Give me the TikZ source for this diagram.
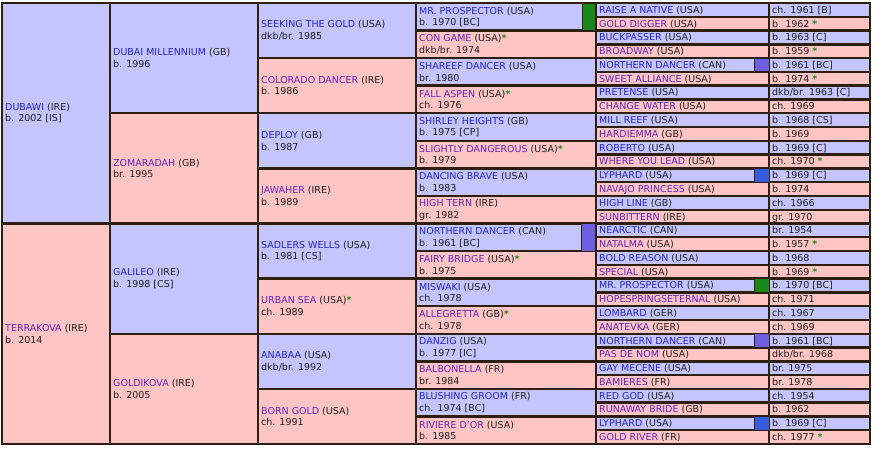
\documentclass[tikz,border=0pt]{standalone}
\usepackage{fontspec}
\setmainfont{DejaVu Sans}
\definecolor{bgm}{RGB}{196,196,255}
\definecolor{bgf}{RGB}{255,196,196}
\definecolor{bord}{RGB}{45,30,15}
\definecolor{lm}{RGB}{36,36,200}
\definecolor{lf}{RGB}{100,36,185}
\definecolor{tx}{RGB}{30,30,30}
\definecolor{stg}{RGB}{30,140,30}
\definecolor{sqg}{RGB}{25,135,25}
\definecolor{sqnd}{RGB}{110,95,225}
\definecolor{sqly}{RGB}{55,90,225}
\newcommand\Mn[1]{\textcolor{lm}{#1}}
\newcommand\Fn[1]{\textcolor{lf}{#1}}
\newcommand\gst{\textcolor{stg}{\textbf{*}}}
\tikzset{
  cellbox/.style={draw=bord,line width=2.4pt},
  sqbox/.style={draw=bord,line width=1pt},
  txt/.style={anchor=west,inner xsep=3pt,inner ysep=0pt,align=left,text=tx,font=\fontsize{9.5}{11.5}\selectfont},
  txtone/.style={anchor=west,inner xsep=3pt,inner ysep=0pt,text=tx,text height=8.5pt,text depth=1.7pt,font=\fontsize{9.5}{11.5}\selectfont}
}
% #1 name, #2 x1, #3 x2, #4 row, #5 row height, #6 m/f, #7 text
\newcommand\Cell[7]{%
  \pgfmathsetmacro\ya{3+#4*#5}\pgfmathsetmacro\yb{3+(#4+1)*#5}\pgfmathsetmacro\ym{(\ya+\yb)/2}%
  \path[cellbox,fill=bg#6] (#2,\ya) rectangle (#3,\yb);
  \node[txt] (#1) at (#2,\ym) {#7};
}
% #1 row, #2 m/f, #3 name text, #4 date text
\newcommand\Rw[4]{%
  \pgfmathsetmacro\ya{3+#1*13.78125}\pgfmathsetmacro\yb{3+(#1+1)*13.78125}\pgfmathsetmacro\ym{(\ya+\yb)/2}%
  \path[cellbox,fill=bg#2] (596,\ya) rectangle (769,\yb);
  \path[cellbox,fill=bg#2] (769,\ya) rectangle (870,\yb);
  \node[txtone] (n#1) at (596,\ym) {#3};
  \node[txtone] (d#1) at (769,\ym) {#4};
}
% #1 row, #2 color, #3 x1, #4 x2, #5 row height
\newcommand\Sq[5]{%
  \pgfmathsetmacro\ya{3+#1*#5}\pgfmathsetmacro\yb{3+(#1+1)*#5}%
  \path[sqbox,fill=#2] (#3,\ya) rectangle (#4,\yb);
}
\begin{document}
\begin{tikzpicture}[x=1pt,y=-1pt]
\useasboundingbox (0,0) rectangle (875,448);
\fill[white] (0,0) rectangle (875,448);
% generation 1
\Cell{ga}{2}{110}{0}{220.5}{m}{\Mn{DUBAWI} (IRE)\\b. 2002 [IS]}
\Cell{gb}{2}{110}{1}{220.5}{f}{\Fn{TERRAKOVA} (IRE)\\b. 2014}
% generation 2
\Cell{ha}{110}{258}{0}{110.25}{m}{\Mn{DUBAI MILLENNIUM} (GB)\\b. 1996}
\Cell{hb}{110}{258}{1}{110.25}{f}{\Fn{ZOMARADAH} (GB)\\br. 1995}
\Cell{hc}{110}{258}{2}{110.25}{m}{\Mn{GALILEO} (IRE)\\b. 1998 [CS]}
\Cell{hd}{110}{258}{3}{110.25}{f}{\Fn{GOLDIKOVA} (IRE)\\b. 2005}
% generation 3
\Cell{ja}{258}{416}{0}{55.125}{m}{\Mn{SEEKING THE GOLD} (USA)\\dkb/br. 1985}
\Cell{jb}{258}{416}{1}{55.125}{f}{\Fn{COLORADO DANCER} (IRE)\\b. 1986}
\Cell{jc}{258}{416}{2}{55.125}{m}{\Mn{DEPLOY} (GB)\\b. 1987}
\Cell{jd}{258}{416}{3}{55.125}{f}{\Fn{JAWAHER} (IRE)\\b. 1989}
\Cell{je}{258}{416}{4}{55.125}{m}{\Mn{SADLERS WELLS} (USA)\\b. 1981 [CS]}
\Cell{jf}{258}{416}{5}{55.125}{f}{\Fn{URBAN SEA} (USA)\gst\\ch. 1989}
\Cell{jg}{258}{416}{6}{55.125}{m}{\Mn{ANABAA} (USA)\\dkb/br. 1992}
\Cell{jh}{258}{416}{7}{55.125}{f}{\Fn{BORN GOLD} (USA)\\ch. 1991}
% generation 4
\Cell{ka}{416}{596}{0}{27.5625}{m}{\Mn{MR. PROSPECTOR} (USA)\\b. 1970 [BC]}
\Cell{kb}{416}{596}{1}{27.5625}{f}{\Fn{CON GAME} (USA)\gst\\dkb/br. 1974}
\Cell{kc}{416}{596}{2}{27.5625}{m}{\Mn{SHAREEF DANCER} (USA)\\br. 1980}
\Cell{kd}{416}{596}{3}{27.5625}{f}{\Fn{FALL ASPEN} (USA)\gst\\ch. 1976}
\Cell{ke}{416}{596}{4}{27.5625}{m}{\Mn{SHIRLEY HEIGHTS} (GB)\\b. 1975 [CP]}
\Cell{kf}{416}{596}{5}{27.5625}{f}{\Fn{SLIGHTLY DANGEROUS} (USA)\gst\\b. 1979}
\Cell{kg}{416}{596}{6}{27.5625}{m}{\Mn{DANCING BRAVE} (USA)\\b. 1983}
\Cell{kh}{416}{596}{7}{27.5625}{f}{\Fn{HIGH TERN} (IRE)\\gr. 1982}
\Cell{ki}{416}{596}{8}{27.5625}{m}{\Mn{NORTHERN DANCER} (CAN)\\b. 1961 [BC]}
\Cell{kj}{416}{596}{9}{27.5625}{f}{\Fn{FAIRY BRIDGE} (USA)\gst\\b. 1975}
\Cell{kk}{416}{596}{10}{27.5625}{m}{\Mn{MISWAKI} (USA)\\ch. 1978}
\Cell{kl}{416}{596}{11}{27.5625}{f}{\Fn{ALLEGRETTA} (GB)\gst\\ch. 1978}
\Cell{km}{416}{596}{12}{27.5625}{m}{\Mn{DANZIG} (USA)\\b. 1977 [IC]}
\Cell{kn}{416}{596}{13}{27.5625}{f}{\Fn{BALBONELLA} (FR)\\br. 1984}
\Cell{ko}{416}{596}{14}{27.5625}{m}{\Mn{BLUSHING GROOM} (FR)\\ch. 1974 [BC]}
\Cell{kp}{416}{596}{15}{27.5625}{f}{\Fn{RIVIERE D'OR} (USA)\\b. 1985}
\Sq{0}{sqg}{582}{596}{27.5625}
\Sq{8}{sqnd}{581}{596}{27.5625}
% generation 5
\Rw{0}{m}{\Mn{RAISE A NATIVE} (USA)}{ch. 1961 [B]}
\Rw{1}{f}{\Fn{GOLD DIGGER} (USA)}{b. 1962 \gst}
\Rw{2}{m}{\Mn{BUCKPASSER} (USA)}{b. 1963 [C]}
\Rw{3}{f}{\Fn{BROADWAY} (USA)}{b. 1959 \gst}
\Rw{4}{m}{\Mn{NORTHERN DANCER} (CAN)}{b. 1961 [BC]}
\Rw{5}{f}{\Fn{SWEET ALLIANCE} (USA)}{b. 1974 \gst}
\Rw{6}{m}{\Mn{PRETENSE} (USA)}{dkb/br. 1963 [C]}
\Rw{7}{f}{\Fn{CHANGE WATER} (USA)}{ch. 1969}
\Rw{8}{m}{\Mn{MILL REEF} (USA)}{b. 1968 [CS]}
\Rw{9}{f}{\Fn{HARDIEMMA} (GB)}{b. 1969}
\Rw{10}{m}{\Mn{ROBERTO} (USA)}{b. 1969 [C]}
\Rw{11}{f}{\Fn{WHERE YOU LEAD} (USA)}{ch. 1970 \gst}
\Rw{12}{m}{\Mn{LYPHARD} (USA)}{b. 1969 [C]}
\Rw{13}{f}{\Fn{NAVAJO PRINCESS} (USA)}{b. 1974}
\Rw{14}{m}{\Mn{HIGH LINE} (GB)}{ch. 1966}
\Rw{15}{f}{\Fn{SUNBITTERN} (IRE)}{gr. 1970}
\Rw{16}{m}{\Mn{NEARCTIC} (CAN)}{br. 1954}
\Rw{17}{f}{\Fn{NATALMA} (USA)}{b. 1957 \gst}
\Rw{18}{m}{\Mn{BOLD REASON} (USA)}{b. 1968}
\Rw{19}{f}{\Fn{SPECIAL} (USA)}{b. 1969 \gst}
\Rw{20}{m}{\Mn{MR. PROSPECTOR} (USA)}{b. 1970 [BC]}
\Rw{21}{f}{\Fn{HOPESPRINGSETERNAL} (USA)}{ch. 1971}
\Rw{22}{m}{\Mn{LOMBARD} (GER)}{ch. 1967}
\Rw{23}{f}{\Fn{ANATEVKA} (GER)}{ch. 1969}
\Rw{24}{m}{\Mn{NORTHERN DANCER} (CAN)}{b. 1961 [BC]}
\Rw{25}{f}{\Fn{PAS DE NOM} (USA)}{dkb/br. 1968}
\Rw{26}{m}{\Mn{GAY MECENE} (USA)}{br. 1975}
\Rw{27}{f}{\Fn{BAMIERES} (FR)}{br. 1978}
\Rw{28}{m}{\Mn{RED GOD} (USA)}{ch. 1954}
\Rw{29}{f}{\Fn{RUNAWAY BRIDE} (GB)}{b. 1962}
\Rw{30}{m}{\Mn{LYPHARD} (USA)}{b. 1969 [C]}
\Rw{31}{f}{\Fn{GOLD RIVER} (FR)}{ch. 1977 \gst}
\Sq{4}{sqnd}{754}{769}{13.78125}
\Sq{12}{sqly}{754}{769}{13.78125}
\Sq{20}{sqg}{754}{769}{13.78125}
\Sq{24}{sqnd}{754}{769}{13.78125}
\Sq{30}{sqly}{754}{769}{13.78125}
\end{tikzpicture}
\end{document}
